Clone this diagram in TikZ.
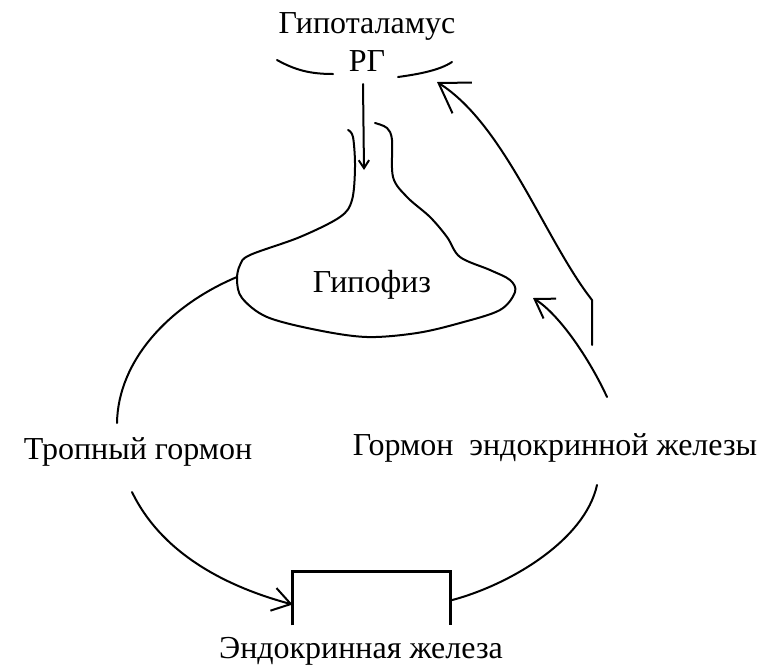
\documentclass[tikz,border=0pt]{standalone}
\usepackage{fontspec}
\setmainfont{Liberation Serif}
\usetikzlibrary{arrows.meta}
\begin{document}
\begin{tikzpicture}[x=0.5pt,y=-0.5pt,
  lbl/.style={inner sep=0pt,font=\fontsize{16}{19}\selectfont},
  ln/.style={line width=1pt,line cap=round,line join=round},
  barb/.style={-{Straight Barb[length=#1,width=1.3*#1,line width=1pt]}},
  boxline/.style={line width=1.5pt}]
\useasboundingbox (0,0) rectangle (775,670);
% texts
\node[lbl] (hyp) at (367,26) {Гипоталамус};
\node[lbl] (rg) at (367,61) {РГ};
\node[lbl] (hypo) at (372,285) {Гипофиз};
\node[lbl] (trop) at (138,452) {Тропный гормон};
\node[lbl] (horm) at (555,448) {Гормон\ \ эндокринной железы};
\node[minimum width=78.5pt,minimum height=26.5pt,inner sep=0pt] (endo) at (371.5,598.5) {};
\node[lbl] (endolbl) at (361,651) {Эндокринная железа};
% hypothalamus arcs
\draw[ln] (277,60) .. controls (295,70) and (310,74) .. (333,74);
\draw[ln] (398,77) .. controls (420,74) and (440,70) .. (452,62);
% endocrine gland box (open bottom)
\draw[boxline] (endo.south west) -- (endo.north west) -- (endo.north east) -- (endo.south east);
% pituitary outline with stalk
\draw[ln] plot[smooth,tension=0.55] coordinates {(348,130) (353,137) (355,167) (352,200) (340,217) (300,237) (250,255) (240,265) (237,280) (242,298) (267,317) (317,330) (367,337) (417,333) (460,323) (500,310) (515,292) (510,280) (490,270) (460,257) (447,237) (430,217) (407,197) (393,177) (392,140) (387,128) (375,123)};
% named coordinates for connector ends
\coordinate (rgout) at (363,84);
\coordinate (stalkin) at (364,170);
\coordinate (hypoL) at (237,277);
\coordinate (tropT) at (117,423);
\coordinate (tropB) at (132,492);
\coordinate (endoL) at ([yshift=-3pt]endo.west);
\coordinate (endoR) at ([yshift=-1pt]endo.east);
\coordinate (hormB) at (597,485);
\coordinate (hormT) at (607,397);
\coordinate (hypoR) at (533,298);
\coordinate (fbStart) at (592,345);
\coordinate (fbBend) at (592,300);
\coordinate (rgR) at (437,82);
% releasing hormone down the stalk
\draw[ln,barb=4pt] (rgout) -- (stalkin);
% tropic hormone
\draw[ln] (hypoL) .. controls (170,305) and (118,360) .. (tropT);
\draw[ln,barb=9pt] (tropB) .. controls (160,550) and (220,585) .. (endoL);
% hormone of endocrine gland
\draw[ln] (endoR) .. controls (510,585) and (585,540) .. (hormB);
\draw[ln,barb=9pt] (hormT) .. controls (590,360) and (560,315) .. (hypoR);
\draw[ln,barb=14pt] (fbStart) -- (fbBend) .. controls (545,240) and (505,125) .. (rgR);
\end{tikzpicture}
\end{document}
